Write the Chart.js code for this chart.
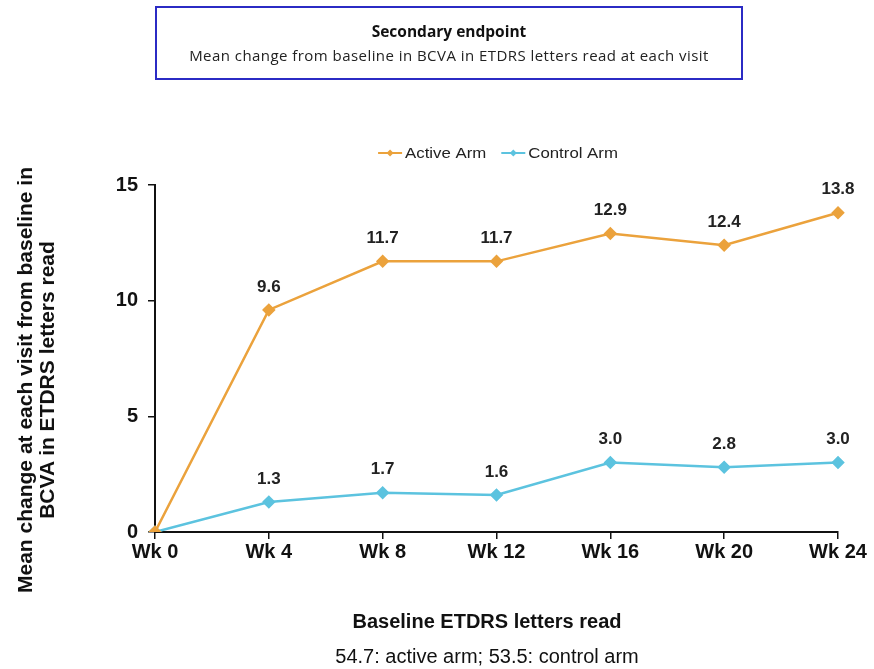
<!DOCTYPE html>
<html>
<head>
  <title>BCVA secondary endpoint</title>
  <script src="https://cdn.jsdelivr.net/npm/chart.js"></script>
  <style>
    body {
      margin: 0;
      padding: 0;
      background: #fff;
      font-family: 'Liberation Sans', Arial, sans-serif;
    }
    #wrap {
      position: relative;
      width: 874px;
      height: 669px;
      overflow: hidden;
    }
    #chart-box {
      position: absolute;
      left: 0;
      top: 0;
      width: 874px;
      height: 669px;
    }
    .title-box {
      position: absolute;
      left: 155px;
      top: 6px;
      width: 584px;
      height: 70px;
      border: 2px solid #2b2bc4;
      text-align: center;
      font-family: 'Open Sans', sans-serif;
      color: #111;
    }
    .title-box .head {
      font-size: 15.5px;
      font-weight: 700;
      margin-top: 12px;
    }
    .title-box .sub {
      font-size: 15px;
      letter-spacing: 0.45px;
      margin-top: 3px;
      color: #222;
    }
    .y-title {
      position: absolute;
      left: -194px;
      top: 358px;
      width: 460px;
      height: 44px;
      transform: rotate(-90deg);
      text-align: center;
      font-size: 21px;
      font-weight: bold;
      line-height: 22px;
      color: #111;
      white-space: nowrap;
    }
    .foot {
      position: absolute;
      left: 0;
      width: 974px;
      text-align: center;
      color: #111;
    }
    #foot1 { top: 610px; font-size: 20px; font-weight: bold; }
    #foot2 { top: 645px; font-size: 20px; }
  </style>
</head>
<body>
<div id="wrap">
  <div id="chart-box"><canvas id="chart"></canvas></div>
  <div class="title-box">
    <div class="head">Secondary endpoint</div>
    <div class="sub">Mean change from baseline in BCVA in ETDRS letters read at each visit</div>
  </div>
  <div class="y-title">Mean change at each visit from baseline in<br>BCVA in ETDRS letters read</div>
  <div class="foot" id="foot1">Baseline ETDRS letters read</div>
  <div class="foot" id="foot2">54.7: active arm; 53.5: control arm</div>
</div>

<script>
  const weeks = ['Wk 0', 'Wk 4', 'Wk 8', 'Wk 12', 'Wk 16', 'Wk 20', 'Wk 24'];
  const activeArm = [0, 9.6, 11.7, 11.7, 12.9, 12.4, 13.8];
  const controlArm = [0, 1.3, 1.7, 1.6, 3.0, 2.8, 3.0];
  const yTicks = [0, 5, 10, 15];

  const orange = '#eba23c';
  const cyan = '#5cc3df';

  // legend drawn by hand: short line with a diamond, then the label (slightly wide text)
  const lineLegend = {
    id: 'lineLegend',
    afterDraw(chart) {
      const ctx = chart.ctx;
      const items = chart.data.datasets;
      const stretch = 1.2;
      ctx.save();
      ctx.font = '14px "Liberation Sans", Arial, sans-serif';
      const y = 153;
      const lineW = 24, gap = 3, spacing = 15;
      let total = 0;
      items.forEach(d => { total += lineW + gap + ctx.measureText(d.label).width * stretch; });
      total += spacing * (items.length - 1);
      let x = 498 - total / 2;
      items.forEach(d => {
        ctx.strokeStyle = d.borderColor;
        ctx.lineWidth = 2;
        ctx.beginPath();
        ctx.moveTo(x, y);
        ctx.lineTo(x + lineW, y);
        ctx.stroke();
        ctx.fillStyle = d.borderColor;
        ctx.beginPath();
        const cx = x + lineW / 2;
        ctx.moveTo(cx, y - 3.5);
        ctx.lineTo(cx + 3.5, y);
        ctx.lineTo(cx, y + 3.5);
        ctx.lineTo(cx - 3.5, y);
        ctx.closePath();
        ctx.fill();
        x += lineW + gap;
        ctx.save();
        ctx.translate(x, y + 1);
        ctx.scale(stretch, 1);
        ctx.fillStyle = '#222';
        ctx.textBaseline = 'middle';
        ctx.textAlign = 'left';
        ctx.fillText(d.label, 0, 0);
        ctx.restore();
        x += ctx.measureText(d.label).width * stretch + spacing;
      });
      ctx.restore();
    }
  };

  // value labels above every point except the origin
  const valueLabels = {
    id: 'valueLabels',
    afterDatasetsDraw(chart) {
      const ctx = chart.ctx;
      ctx.save();
      ctx.font = 'bold 17px "Liberation Sans", Arial, sans-serif';
      ctx.fillStyle = '#222';
      ctx.textAlign = 'center';
      ctx.textBaseline = 'middle';
      chart.data.datasets.forEach((ds, i) => {
        const meta = chart.getDatasetMeta(i);
        meta.data.forEach((pt, j) => {
          if (j === 0) return;
          ctx.fillText(ds.data[j].toFixed(1), pt.x, pt.y - 23);
        });
      });
      ctx.restore();
    }
  };

  const tickFont = { family: '"Liberation Sans", Arial, sans-serif', size: 20, weight: 'bold' };

  const ctx = document.getElementById('chart').getContext('2d');
  new Chart(ctx, {
    type: 'line',
    data: {
      labels: weeks,
      datasets: [
        {
          label: 'Active Arm',
          data: activeArm,
          borderColor: orange,
          backgroundColor: orange,
          borderWidth: 2.5,
          pointStyle: 'rectRot',
          pointRadius: 5,
          tension: 0
        },
        {
          label: 'Control Arm',
          data: controlArm,
          borderColor: cyan,
          backgroundColor: cyan,
          borderWidth: 2.5,
          pointStyle: 'rectRot',
          pointRadius: 5,
          tension: 0
        }
      ]
    },
    options: {
      responsive: true,
      maintainAspectRatio: false,
      animation: false,
      layout: {
        padding: { left: 0, right: 36, top: 185, bottom: 97 }
      },
      plugins: {
        legend: { display: false },
        tooltip: { enabled: false }
      },
      scales: {
        x: {
          offset: false,
          afterFit(scale) { scale.height = 40; },
          grid: {
            display: true,
            drawOnChartArea: false,
            drawTicks: true,
            tickLength: 7,
            color: '#111',
            lineWidth: 1.5
          },
          border: { color: '#111', width: 2 },
          ticks: {
            color: '#111',
            padding: 1,
            maxRotation: 0,
            font: tickFont
          }
        },
        y: {
          min: 0,
          max: 15,
          afterFit(scale) { scale.width = 155; },
          afterBuildTicks(scale) { scale.ticks = yTicks.map(v => ({ value: v })); },
          grid: {
            display: true,
            drawOnChartArea: false,
            drawTicks: true,
            tickLength: 7,
            color: '#111',
            lineWidth: 1.5
          },
          border: { color: '#111', width: 2 },
          ticks: {
            color: '#111',
            padding: 10,
            font: tickFont
          }
        }
      }
    },
    plugins: [lineLegend, valueLabels]
  });
</script>
</body>
</html>
